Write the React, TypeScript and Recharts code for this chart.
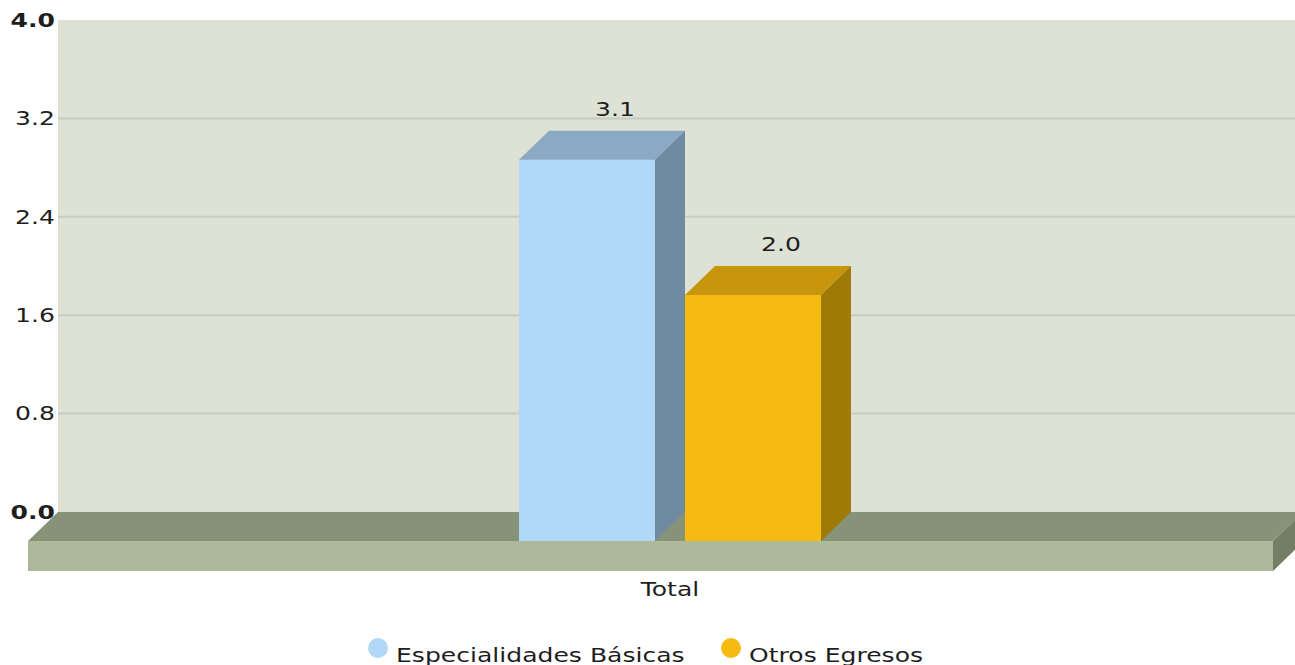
import React from 'react';
import { BarChart, Bar, XAxis, YAxis, CartesianGrid, ReferenceLine, Legend } from 'recharts';

const categories = ['Total'];
const especialidadesBasicas = [3.1];
const otrosEgresos = [2.0];
const yTicks = [0, 0.8, 1.6, 2.4, 3.2, 4.0];
const gridValues = [0.8, 1.6, 2.4, 3.2];
const seriesNames = ['Especialidades Básicas', 'Otros Egresos'];

const data = categories.map((c, i) => ({
  name: c,
  esp: especialidadesBasicas[i],
  otros: otrosEgresos[i],
}));

const DX = 30;
const DY = 29;
const SLAB = 30;
const FONT = '"DejaVu Sans", Verdana, sans-serif';
const SX = 1.32;
const FS = 19;
const TXT = '#1e1e1e';

const colors: any = {
  esp: { front: '#b1d8f6', top: '#8aa9c4', side: '#6f8aa1' },
  otros: { front: '#f5bb11', top: '#c7960c', side: '#9f7a06' },
};

const make3DBar = (key: string) => (props: any) => {
  const { x, y, width, height, payload } = props;
  const c = colors[key];
  const fx = x - DX;
  const fy = y + DY;
  const v = payload[key];
  return (
    <g>
      <rect x={fx} y={fy} width={width} height={height} fill={c.front} />
      <polygon points={`${fx},${fy} ${x},${y} ${x + width},${y} ${fx + width},${fy}`} fill={c.top} />
      <polygon
        points={`${fx + width},${fy} ${x + width},${y} ${x + width},${y + height} ${fx + width},${fy + height}`}
        fill={c.side}
      />
      <g transform={`translate(${x + width / 2 - 2},${y - 15}) scale(${SX},1)`}>
        <text x={0} y={0} textAnchor="middle" fontFamily={FONT} fontSize={FS} fill={TXT}>
          {v.toFixed(1)}
        </text>
      </g>
    </g>
  );
};

const PLOT_LEFT = 58;
const FLOOR_RIGHT = 1303;

const Floor = (props: any) => {
  const y0 = props.y1;
  const L = PLOT_LEFT;
  const R = FLOOR_RIGHT;
  return (
    <g>
      <polygon points={`${L},${y0} ${R},${y0} ${R - DX},${y0 + DY} ${L - DX},${y0 + DY}`} fill="#879379" />
      <rect x={L - DX} y={y0 + DY} width={R - L} height={SLAB} fill="#adb99b" />
      <polygon
        points={`${R - DX},${y0 + DY} ${R},${y0} ${R},${y0 + SLAB} ${R - DX},${y0 + DY + SLAB}`}
        fill="#747e64"
      />
    </g>
  );
};

const YTick = (props: any) => {
  const { x, y, payload } = props;
  const v = payload.value;
  const bold = v === yTicks[0] || v === yTicks[yTicks.length - 1];
  return (
    <g transform={`translate(${x},${y}) scale(${SX},1)`}>
      <text x={0} y={0} dy="0.36em" textAnchor="end" fontFamily={FONT} fontSize={FS}
        fontWeight={bold ? 'bold' : 'normal'} fill={TXT}>
        {Number(v).toFixed(1)}
      </text>
    </g>
  );
};

const XTick = (props: any) => {
  const { x, y, payload } = props;
  return (
    <g transform={`translate(${x - DX},${y + 84}) scale(${SX},1)`}>
      <text x={0} y={0} textAnchor="middle" fontFamily={FONT} fontSize={FS} fill={TXT}>
        {payload.value}
      </text>
    </g>
  );
};

const legendItems = [
  { name: seriesNames[0], color: colors.esp.front, cx: 378, tx: 396 },
  { name: seriesNames[1], color: colors.otros.front, cx: 731, tx: 749 },
];

const LegendContent = () => (
  <svg width={1295} height={35} style={{ display: 'block' }}>
    {legendItems.map((it) => (
      <g key={it.name}>
        <circle cx={it.cx} cy={18} r={10} fill={it.color} />
        <g transform={`translate(${it.tx},32) scale(${SX},1)`}>
          <text x={0} y={0} fontFamily={FONT} fontSize={FS} fill={TXT}>
            {it.name}
          </text>
        </g>
      </g>
    ))}
  </svg>
);

export default function App() {
  return (
    <div style={{ position: 'absolute', left: 0, top: 0, width: 1295, height: 665, overflow: 'hidden', background: '#fff' }}>
      <BarChart
        width={1295}
        height={665}
        data={data}
        margin={{ top: 20, right: 0, bottom: 0, left: 0 }}
        barSize={136}
        barGap={30}
      >
        <CartesianGrid
          vertical={false}
          fill="#dde2d5"
          fillOpacity={1}
          stroke="#c8cbc3"
          strokeWidth={2}
          horizontalValues={gridValues}
        />
        <ReferenceLine y={0} shape={Floor} zIndex={-50} />
        <XAxis
          dataKey="name"
          height={118}
          axisLine={false}
          tickLine={false}
          tickSize={0}
          tickMargin={0}
          padding={{ left: 47, right: 0 }}
          tick={<XTick />}
        />
        <YAxis
          width={58}
          domain={[0, 4]}
          ticks={yTicks}
          interval={0}
          axisLine={false}
          tickLine={false}
          tickSize={0}
          tickMargin={3}
          tick={<YTick />}
        />
        <Legend verticalAlign="bottom" height={35} content={<LegendContent />} wrapperStyle={{ left: 0, width: 1295, height: 35 }} />
        <Bar dataKey="esp" name={seriesNames[0]} fill={colors.esp.front} shape={make3DBar('esp')} isAnimationActive={false} />
        <Bar dataKey="otros" name={seriesNames[1]} fill={colors.otros.front} shape={make3DBar('otros')} isAnimationActive={false} />
      </BarChart>
    </div>
  );
}
